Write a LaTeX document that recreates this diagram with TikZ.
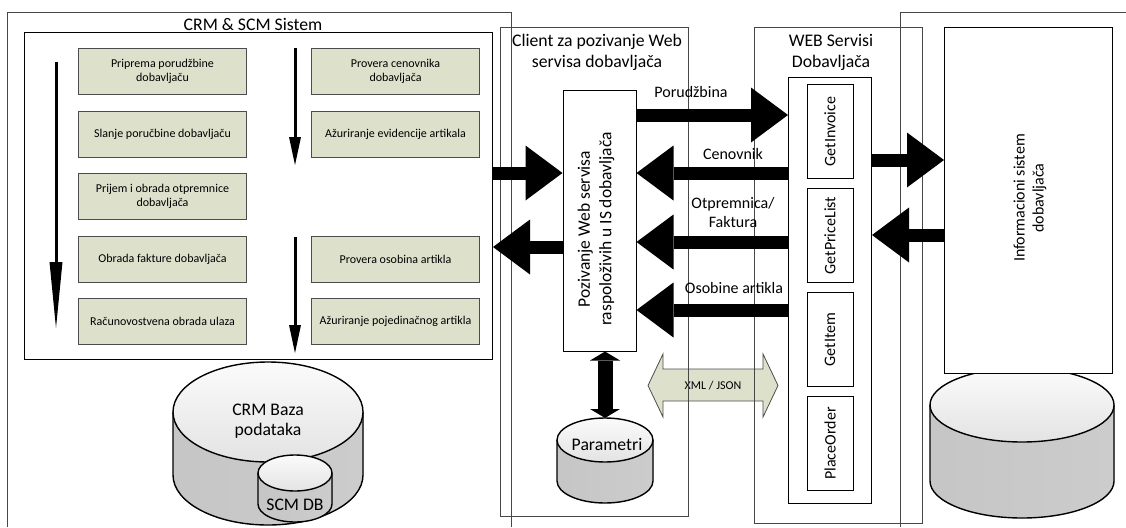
\documentclass[tikz,border=0pt]{standalone}
\usepackage{fontspec}
\setmainfont{Carlito}
\usetikzlibrary{arrows.meta,%
                positioning}
\definecolor{taskgreen}{RGB}{221,225,204}
\definecolor{framegray}{RGB}{70,70,70}

% database: center x, top y, bottom y, x radius, y radius
\newcommand{\dbcyl}[5]{%
  \fill[left color = gray!45, middle color = gray!8, right color = gray!40]
    ({#1-#4},#2) -- ({#1-#4},#3)
    arc[start angle = 180, end angle = 360, x radius = #4pt, y radius = #5pt]
    -- ({#1+#4},#2) -- cycle;
  \draw[line width = 1.4pt] ({#1-#4},#2) -- ({#1-#4},#3)
    arc[start angle = 180, end angle = 360, x radius = #4pt, y radius = #5pt]
    -- ({#1+#4},#2);
  \draw[line width = 1.4pt, top color = gray!3, bottom color = gray!22]
    (#1,#2) ellipse[x radius = #4pt, y radius = #5pt];
}

\begin{document}
\begin{tikzpicture}[x = 1pt, y = -1pt, node distance = 15.5pt]
  \useasboundingbox (0,0) rectangle (1126,527);
  \tikzset{TaskStyle/.style    = {draw           = black!70,
                                  line width     = 1pt,
                                  fill           = taskgreen,
                                  minimum width  = 168pt,
                                  minimum height = 46pt,
                                  align          = center,
                                  font           = \fontsize{12}{14}\selectfont}}
  \tikzset{FrameStyle/.style   = {draw           = framegray,
                                  line width     = 0.8pt}}
  \tikzset{BoxStyle/.style     = {draw,
                                  line width     = 1pt}}
  \tikzset{ServiceStyle/.style = {draw,
                                  line width     = 1pt,
                                  minimum width  = 46pt,
                                  minimum height = 94pt,
                                  font           = \fontsize{16}{19}\selectfont}}
  \tikzset{TitleStyle/.style   = {align          = center,
                                  font           = \fontsize{17.7}{20.5}\selectfont}}
  \tikzset{LabelStyle/.style   = {align          = center,
                                  font           = \fontsize{16}{19}\selectfont}}
  \tikzset{FatArrow/.style     = {line width     = 13pt,
                                  -{Triangle[length = 37pt, width = 55pt, line width = 0pt]}}}
  \tikzset{FlowArrow/.style    = {line width     = 3pt,
                                  -{Triangle[length = 28pt, width = 12pt, line width = 0pt]}}}

  % databases
  \dbcyl{268}{412}{475}{95}{50}
  \dbcyl{295}{473}{504}{37}{18}
  \dbcyl{605}{440}{481}{48}{22}
  \dbcyl{1022}{405}{481}{92}{37}
  \node[TitleStyle] (CrmDb) at (268,421) {CRM Baza\\podataka};
  \node[TitleStyle, anchor = base] (ScmDb) at (295,510) {SCM DB};
  \node[TitleStyle, anchor = base] (Param) at (607,450) {Parametri};
  \coordinate (ParamTop) at (605,418);

  % XML / JSON exchange
  \filldraw[fill = taskgreen, draw = black!70, line width = 0.8pt]
    (648,385.5) -- (663,354) -- (663,369) -- (763,369) -- (763,354) -- (778,385.5)
    -- (763,417) -- (763,401) -- (663,401) -- (663,417) -- cycle;
  \node[font = \fontsize{12}{14}\selectfont] (XmlJson) at (713,385.5) {XML / JSON};

  % outer frames
  \draw[framegray, line width = 0.8pt] (7,527) -- (7,12) -- (511,12) -- (511,527);
  \draw[framegray, line width = 0.8pt] (1126,12) -- (900,12) -- (900,527);

  % CRM & SCM
  \node[TitleStyle, anchor = base] (CrmTitle) at (253,31) {CRM \& SCM Sistem};
  \node[BoxStyle, anchor = north west, minimum width = 468pt, minimum height = 327pt]
       (CrmBox) at (24,32) {};
  \node[TaskStyle, anchor = north west] (Priprema) at (78,48) {Priprema porudžbine\\dobavljaču};
  \node[TaskStyle, below = of Priprema] (Slanje) {Slanje poručbine dobavljaču};
  \node[TaskStyle, below = of Slanje] (Prijem) {Prijem i obrada otpremnice\\dobavljača};
  \node[TaskStyle, below = of Prijem] (Faktura) {Obrada fakture dobavljača};
  \node[TaskStyle, below = of Faktura] (Ulaz) {Računovostvena obrada ulaza};
  \node[TaskStyle, right = 64pt of Priprema] (Cenovnik) {Provera cenovnika\\dobavljača};
  \node[TaskStyle, below = of Cenovnik] (Evidencija) {Ažuriranje evidencije artikala};
  \node[TaskStyle, right = 64pt of Faktura] (Osobine) {Provera osobina artikla};
  \node[TaskStyle, below = of Osobine] (Artikal) {Ažuriranje pojedinačnog artikla};

  \coordinate (FlowA) at (56,62);   \coordinate (FlowAEnd) at (56,328);
  \coordinate (FlowB) at (295,48);  \coordinate (FlowBEnd) at (295,165);
  \coordinate (FlowC) at (295,237); \coordinate (FlowCEnd) at (295,353);
  \draw[FlowArrow, -{Triangle[length = 66pt, width = 13pt, line width = 0pt]}] (FlowA) -- (FlowAEnd);
  \draw[FlowArrow] (FlowB) -- (FlowBEnd);
  \draw[FlowArrow] (FlowC) -- (FlowCEnd);

  % client
  \node[FrameStyle, anchor = north west, minimum width = 188pt, minimum height = 489pt]
       (ClientBox) at (500,27) {};
  \node[TitleStyle] (ClientTitle) at (597,52.5) {Client za pozivanje Web\\servisa dobavljača};
  \node[BoxStyle, minimum width = 73pt, minimum height = 261pt] (Poziv) at (599.5,220.5) {};
  \node[TitleStyle, rotate = 90, font = \fontsize{17.5}{21.5}\selectfont]
       (PozivText) at (596,229) {Pozivanje Web servisa\\raspoloživih u IS dobavljača};

  % web services
  \node[FrameStyle, anchor = north west, minimum width = 168pt, minimum height = 496pt]
       (WebBox) at (754,27) {};
  \node[TitleStyle] (WebTitle) at (831,52.5) {WEB Servisi\\Dobavljača};
  \node[BoxStyle, anchor = north west, minimum width = 83pt, minimum height = 426pt]
       (SvcFrame) at (788,77) {};
  \node[ServiceStyle, anchor = north] (GetInvoice) at (830,84) {\rotatebox{90}{GetInvoice}};
  \node[ServiceStyle, below = 9pt of GetInvoice] (GetPriceList) {\rotatebox{90}{GetPriceList}};
  \node[ServiceStyle, below = 9pt of GetPriceList] (GetItem) {\rotatebox{90}{GetItem}};
  \node[ServiceStyle, below = 9pt of GetItem] (PlaceOrder) {\rotatebox{90}{PlaceOrder}};

  % supplier system
  \node[BoxStyle, fill = white, anchor = north west, minimum width = 168pt, minimum height = 346pt]
       (InfoBox) at (944,27) {};
  \node[LabelStyle, rotate = 90] (InfoText) at (1030,198) {Informacioni sistem\\dobavljača};

  % messages
  \coordinate (RowOrder)   at (0,115);
  \coordinate (RowPrice)   at (0,173);
  \coordinate (RowInvoice) at (0,242);
  \coordinate (RowItem)    at (0,310);
  \coordinate (RowOut)     at (0,247);
  \coordinate (RowToIS)    at (0,160);
  \coordinate (RowFromIS)  at (0,235);
  \draw[FatArrow] (Poziv.east |- RowOrder) -- (SvcFrame.west |- RowOrder);
  \draw[FatArrow] (SvcFrame.west |- RowPrice) -- (Poziv.east |- RowPrice);
  \draw[FatArrow] (SvcFrame.west |- RowInvoice) -- (Poziv.east |- RowInvoice);
  \draw[FatArrow] (SvcFrame.west |- RowItem) -- (Poziv.east |- RowItem);
  \draw[FatArrow] (CrmBox.east |- RowPrice) -- (Poziv.west |- RowPrice);
  \draw[FatArrow] (Poziv.west |- RowOut) -- (CrmBox.east |- RowOut);
  \draw[FatArrow] (SvcFrame.east |- RowToIS) -- (InfoBox.west |- RowToIS);
  \draw[FatArrow] (InfoBox.west |- RowFromIS) -- (SvcFrame.east |- RowFromIS);
  \draw[line width = 15pt,
        {Triangle[length = 9pt, width = 30pt, line width = 0pt]}-{Triangle[length = 9pt, width = 30pt, line width = 0pt]}]
       (ParamTop |- Poziv.south) -- (ParamTop);

  \node[LabelStyle, anchor = base] (LblOrder) at (691,97) {Porudžbina};
  \node[LabelStyle, anchor = base] (LblPrice) at (733,159) {Cenovnik};
  \node[LabelStyle] (LblInvoice) at (733,213) {Otpremnica/\\Faktura};
  \node[LabelStyle, anchor = base] (LblItem) at (734,293) {Osobine artikla};
\end{tikzpicture}
\end{document}
